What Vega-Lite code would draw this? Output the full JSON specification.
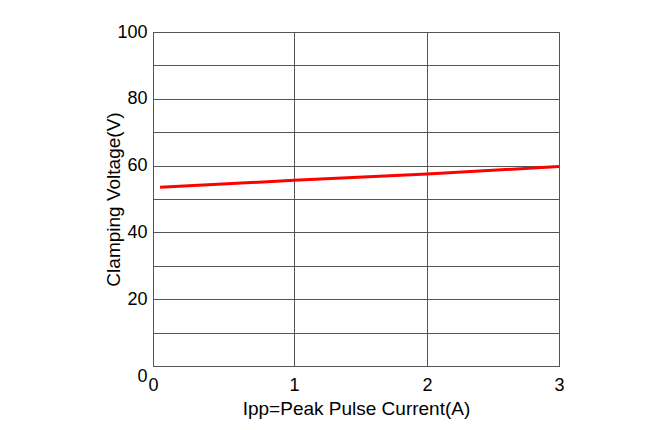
{
  "$schema": "https://vega.github.io/schema/vega-lite/v6.json",
  "autosize": "none",
  "width": 406,
  "height": 334,
  "padding": {"left": 153, "top": 32, "right": 106, "bottom": 64},
  "background": "white",
  "config": {
    "view": {"stroke": "#555555", "strokeWidth": 1},
    "axis": {
      "labelFont": "Liberation Sans",
      "titleFont": "Liberation Sans",
      "labelFontSize": 18,
      "titleFontSize": 19,
      "labelColor": "#000000",
      "titleColor": "#000000",
      "titleFontWeight": "normal",
      "gridColor": "#555555",
      "gridOpacity": 1,
      "gridWidth": 1,
      "domainColor": "#555555",
      "ticks": false
    }
  },
  "data": {
    "values": [
      {"current": 0.05, "voltage": 53.5},
      {"current": 1, "voltage": 55.6},
      {"current": 2, "voltage": 57.5},
      {"current": 3, "voltage": 59.7}
    ]
  },
  "mark": {"type": "line", "color": "#ff0000", "strokeWidth": 3},
  "encoding": {
    "x": {
      "field": "current",
      "type": "quantitative",
      "scale": {"domain": [0, 1, 2, 3], "range": [0, 141, 274, 406], "nice": false},
      "axis": {
        "title": "Ipp=Peak Pulse Current(A)",
        "values": [0, 1, 2, 3],
        "labelPadding": 10,
        "titlePadding": 5,
        "labelFlush": false
      }
    },
    "y": {
      "field": "voltage",
      "type": "quantitative",
      "scale": {"domain": [0, 100], "nice": false},
      "axis": {
        "title": "Clamping Voltage(V)",
        "values": [0, 10, 20, 30, 40, 50, 60, 70, 80, 90, 100],
        "labelExpr": "datum.value % 20 === 0 ? datum.label : ''",
        "labelPadding": 6,
        "labelOffset": {"condition": {"test": "datum.value === 0", "value": 10}, "value": 0},
        "titlePadding": -7,
        "labelFlush": false
      }
    }
  }
}
